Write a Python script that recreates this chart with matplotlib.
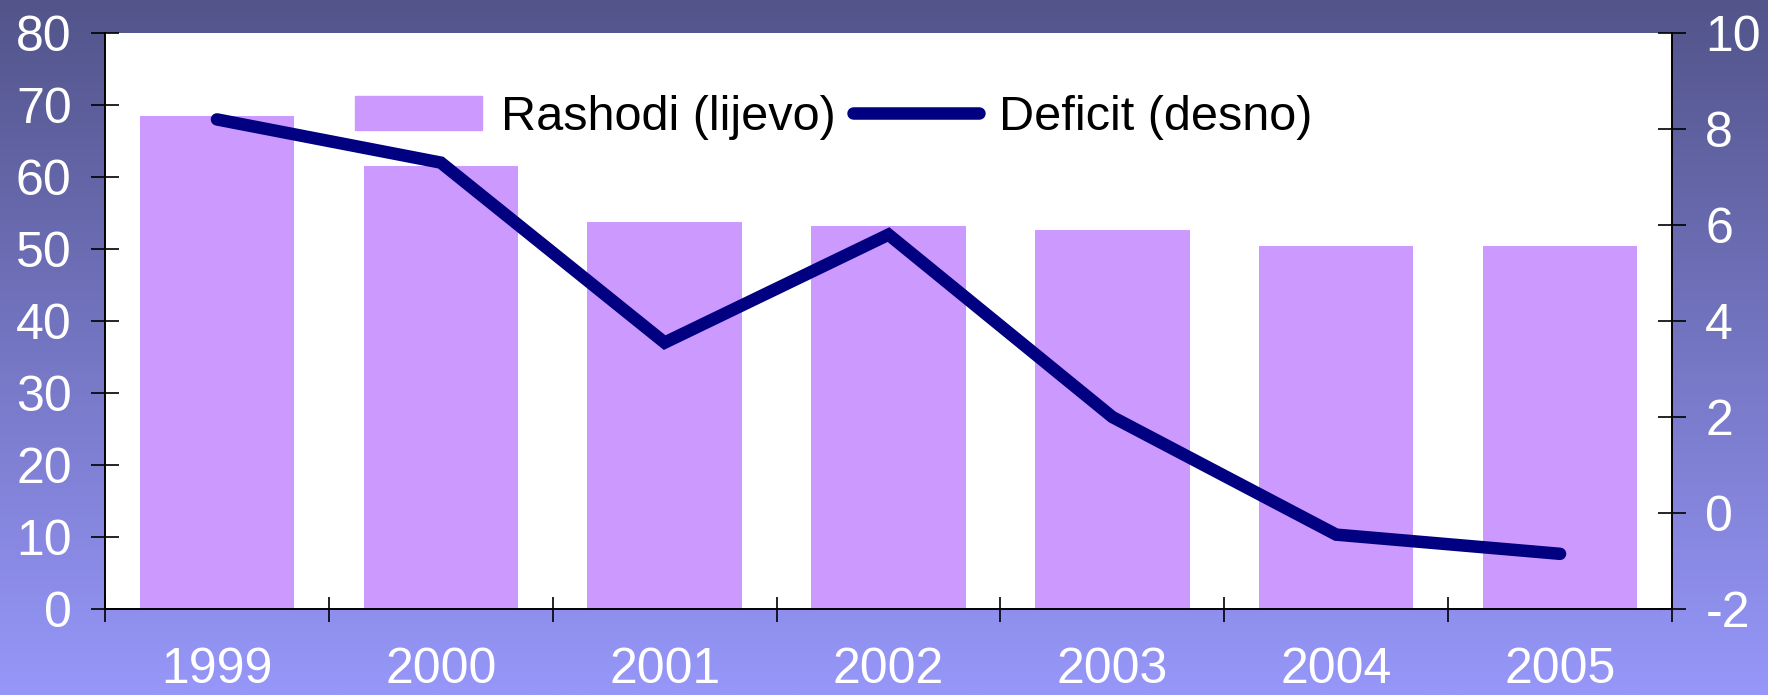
import numpy as np
import matplotlib.pyplot as plt
from matplotlib.patches import Patch
from matplotlib.lines import Line2D

plt.rcParams['font.family'] = ['Liberation Sans', 'DejaVu Sans']
plt.rcParams['axes.unicode_minus'] = False

# Data
years = ['1999', '2000', '2001', '2002', '2003', '2004', '2005']
rashodi = [68.5, 61.5, 53.8, 53.2, 52.6, 50.4, 50.4]
deficit = [8.2, 7.3, 3.55, 5.8, 2.0, -0.45, -0.85]

bar_color = '#cc99ff'
line_color = '#000080'

fig = plt.figure(figsize=(17.68, 6.95), dpi=100)

# gradient background
bg = fig.add_axes([0, 0, 1, 1], zorder=-10)
top = np.array([82, 84, 138]) / 255
bot = np.array([151, 151, 250]) / 255
t = np.linspace(0, 1, 256)[:, None]
grad = (top * (1 - t) + bot * t)[:, None, :]
bg.imshow(grad, aspect='auto', extent=[0, 1, 0, 1])
bg.axis('off')

ax = fig.add_axes([0.0594, 0.1237, 0.8863, 0.8288])
ax.set_facecolor('white')
x = np.arange(len(years))
ax.bar(x, rashodi, width=0.69, color=bar_color, zorder=2)
ax.set_xlim(-0.5, len(years) - 0.5)
ax.set_ylim(0, 80)
ax.set_yticks(range(0, 81, 10))

ax2 = ax.twinx()
ax2.plot(x, deficit, color=line_color, lw=9, solid_capstyle='round',
         solid_joinstyle='miter', zorder=3)
ax2.set_ylim(-2, 10)
ax2.set_yticks(range(-2, 11, 2))

# x ticks at category boundaries, labels at centres
ax.set_xticks(np.arange(-0.5, len(years)), minor=False)
ax.set_xticklabels([''] * (len(years) + 1))
ax.set_xticks(x, minor=True)
ax.set_xticklabels(years, minor=True)
ax.tick_params(axis='x', which='major', direction='inout', length=18, width=1.2)
ax.tick_params(axis='x', which='minor', length=0, pad=27, labelsize=36, labelcolor='white')
ax.tick_params(axis='y', direction='inout', length=20, width=1.2, pad=14,
               labelsize=36, labelcolor='white')
ax2.tick_params(axis='y', direction='inout', length=20, width=1.2, pad=14,
                labelsize=36, labelcolor='white')

for a in (ax, ax2):
    a.spines['top'].set_visible(False)
    for s in ('left', 'right', 'bottom'):
        a.spines[s].set_linewidth(1.2)

handles = [Patch(color=bar_color), Line2D([0], [0], color=line_color, lw=9,
                                            solid_capstyle='round')]
ax2.legend(handles, ['Rashodi (lijevo)', 'Deficit (desno)'], ncol=2, frameon=False,
           loc='center', bbox_to_anchor=(0.465, 0.854), fontsize=35,
           handlelength=2.6, handletextpad=0.4, columnspacing=0.35)

fig.savefig('out.png', dpi=100)
